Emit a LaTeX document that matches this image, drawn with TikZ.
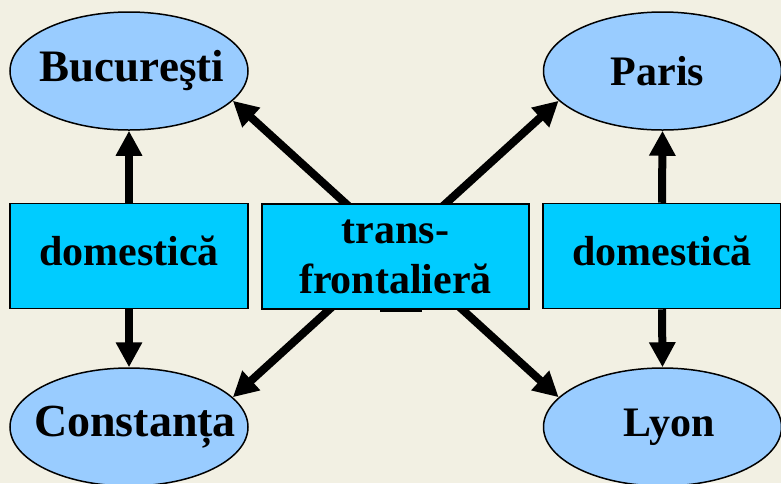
\documentclass[tikz,border=0pt]{standalone}
\usepackage{fontspec}
\setmainfont{Liberation Serif}
\usetikzlibrary{shapes.geometric,arrows.meta}
\definecolor{ellfill}{HTML}{99CCFF}
\definecolor{boxfill}{HTML}{00CCFF}
\definecolor{bgcol}{HTML}{F2F0E3}
\pgfdeclarelayer{back}
\pgfdeclarelayer{mid}
\pgfsetlayers{back,mid,main}
\newcommand{\ctext}[2]{\makebox[0pt][c]{\hspace*{#1}#2}}
\begin{document}
\begin{tikzpicture}[x=1pt,y=-1pt,
  city/.style={ellipse, draw=black, line width=1.5pt, fill=ellfill,
    minimum width=238pt, minimum height=118pt, inner sep=0pt,
    font=\bfseries\fontsize{42}{50}\selectfont},
  bigcity/.style={city, font=\bfseries\fontsize{46}{56}\selectfont},
  kind/.style={rectangle, draw=black, line width=1.5pt, fill=boxfill,
    minimum height=105pt, inner sep=0pt, align=center,
    font=\bfseries\fontsize{42}{50}\selectfont},
  link/.style={line width=8pt, -{Triangle[length=25pt,width=25pt]}},
  both/.style={line width=8pt, {Triangle[length=25pt,width=25pt]}-{Triangle[length=25pt,width=25pt]}}]
\useasboundingbox (0,0) rectangle (781,483);
\begin{pgfonlayer}{back}
  \fill[bgcol] (0,0) rectangle (781,483);
\end{pgfonlayer}
\node[bigcity, font=\bfseries\fontsize{45}{54}\selectfont] (buc) at (129,71) {\ctext{6pt}{Bucureşti}};
\node[city] (par) at (662.5,71) {\ctext{-10pt}{Paris}};
\node[bigcity] (con) at (129,427) {\ctext{12pt}{Constanța}};
\node[city] (lyo) at (662.5,427) {\ctext{14pt}{Lyon}};
\node[kind, minimum width=238pt, text height=30pt, text depth=12pt] (dl) at (129,256) {domestică};
\node[kind, minimum width=267pt] (tf) at (395.5,256.5) {trans-\\frontalieră};
\node[kind, minimum width=238pt, text height=30pt, text depth=12pt] (dr) at (662,256) {domestică};
\fill[black] (380,309) rectangle (422,312);
\begin{pgfonlayer}{mid}
  \draw[link] (dl.north) -- (buc.south);
  \draw[link] (dl.south) -- (con.north);
  \draw[link] (dr.north) -- (par.south);
  \draw[link] (dr.south) -- (lyo.north);
  \draw[both] (buc.-16) -- (lyo.164);
  \draw[both] (par.-164) -- (con.16);
\end{pgfonlayer}
\end{tikzpicture}
\end{document}
